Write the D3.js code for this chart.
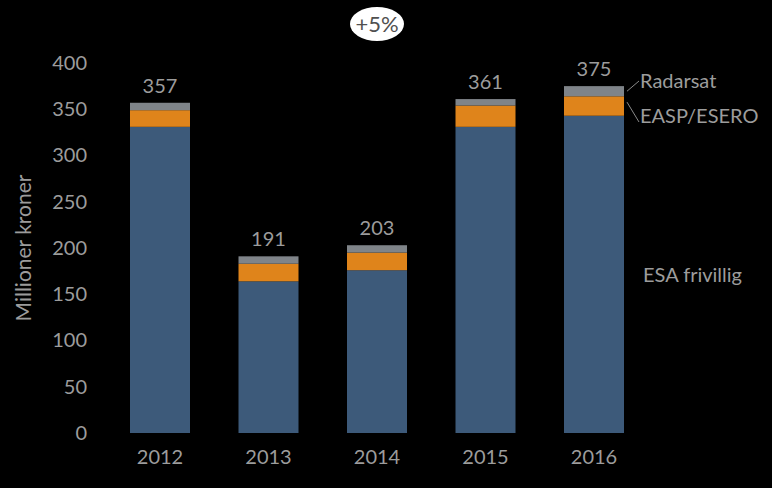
<!DOCTYPE html>
<html><head><meta charset="utf-8">
<script src="https://cdn.jsdelivr.net/npm/d3@7"></script>
<style>html,body{margin:0;padding:0;background:#000;}svg{display:block;}</style>
</head><body>
<svg id="chart" width="772" height="488"></svg>
<script>
const years = ["2012","2013","2014","2015","2016"];
const esaFrivillig = [331,164,176,331,343];
const easpEsero = [18,19,19,23,21];
const radarsat = [8,8,8,7,11];
const totals = [357,191,203,361,375];
const seriesNames = ["ESA frivillig","EASP/ESERO","Radarsat"];
const yTicks = [0,50,100,150,200,250,300,350,400];
const colors = ["#3D5A7A","#DF841B","#7F8489"];
const textColor = "#9C9C9C";
const font = "Lato, 'Open Sans', sans-serif";

const svg = d3.select("#chart");
const x = d3.scaleBand().domain(years).range([105.75,648.25]).paddingInner(0.447).paddingOuter(0.2235);
const y = d3.scaleLinear().domain([0,400]).range([433,63]);

const table = years.map((yr,i)=>({year:yr, "ESA frivillig":esaFrivillig[i], "EASP/ESERO":easpEsero[i], "Radarsat":radarsat[i]}));
const stacked = d3.stack().keys(seriesNames)(table);

svg.append("g").selectAll("g").data(stacked).join("g")
  .attr("fill",(d,i)=>colors[i])
  .selectAll("rect").data(d=>d).join("rect")
  .attr("x",d=>x(d.data.year))
  .attr("width",x.bandwidth())
  .attr("y",d=>y(d[1]))
  .attr("height",d=>y(d[0])-y(d[1]));

// y axis
const yAxis = svg.append("g").attr("transform","translate(96,0)")
  .call(d3.axisLeft(y).tickValues(yTicks).tickSize(0).tickPadding(9));
yAxis.select(".domain").remove();
yAxis.selectAll("text").attr("fill",textColor).style("font-family",font).style("font-size","20px");

// x axis
const xAxis = svg.append("g").attr("transform","translate(0,433)")
  .call(d3.axisBottom(x).tickSize(0).tickPadding(17));
xAxis.select(".domain").remove();
xAxis.selectAll("text").attr("fill",textColor).style("font-family",font).style("font-size","20px");

// y title
svg.append("text").attr("transform","translate(31,248) rotate(-90)")
  .attr("text-anchor","middle").attr("fill",textColor)
  .style("font-family",font).style("font-size","21px").text("Millioner kroner");

// totals
svg.append("g").selectAll("text").data(years).join("text")
  .attr("x",d=>x(d)+x.bandwidth()/2)
  .attr("y",(d,i)=>y(totals[i])-10)
  .attr("text-anchor","middle").attr("fill",textColor)
  .style("font-family",font).style("font-size","20px")
  .text((d,i)=>totals[i]);

// series labels at last bar
const last = years.length-1;
const xr = x(years[last])+x.bandwidth();
const lbl = svg.append("g").style("font-family",font).style("font-size","20px").attr("fill",textColor);
lbl.append("line").attr("x1",xr+3).attr("y1",y(esaFrivillig[last]+easpEsero[last]+radarsat[last]/2)).attr("x2",xr+15).attr("y2",81).attr("stroke","#8A8A8A").attr("stroke-width",1);
lbl.append("line").attr("x1",xr+3).attr("y1",y(esaFrivillig[last]+easpEsero[last]*0.7)).attr("x2",xr+15).attr("y2",122).attr("stroke","#8A8A8A").attr("stroke-width",1);
lbl.append("text").attr("x",xr+16).attr("y",88).text(seriesNames[2]);
lbl.append("text").attr("x",xr+16).attr("y",123).text(seriesNames[1]);
lbl.append("text").attr("x",xr+19).attr("y",282).text(seriesNames[0]);

// +5% badge
svg.append("ellipse").attr("cx",377).attr("cy",24).attr("rx",27).attr("ry",17).attr("fill","#FFFFFF");
svg.append("text").attr("x",377).attr("y",32).attr("text-anchor","middle").attr("fill","#505050")
  .style("font-family",font).style("font-size","22px").text("+5%");
</script>
</body></html>
